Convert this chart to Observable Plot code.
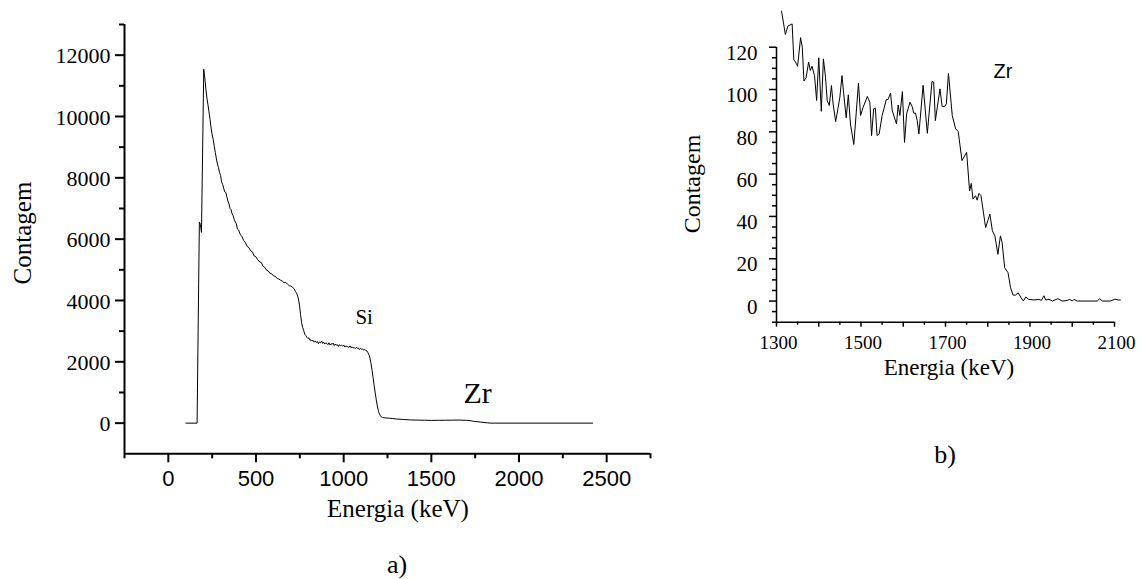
<!DOCTYPE html>
<html><head><meta charset="utf-8">
<script src="https://cdn.jsdelivr.net/npm/d3@7"></script>
<script src="https://cdn.jsdelivr.net/npm/@observablehq/plot@0.6"></script>
<style>
body{margin:0;background:#fff;}
#wrap{position:relative;width:1141px;height:579px;overflow:hidden;background:#fff;}
.p{position:absolute;top:0;}
.lbl{position:absolute;font-family:"Liberation Serif","Times New Roman",serif;color:#000;white-space:nowrap;line-height:1;}
</style></head>
<body><div id="wrap"></div>
<script>
// ---- Data: panel a) full spectrum ----
const leftEnergy = [100,164,177,183,189,202,208,214,220,226,232,238,244,250,256,262,268,274,280,286,292,298,304,310,316,322,328,334,340,346,352,358,364,370,376,382,388,394,400,410,420,430,440,450,460,470,480,490,500,510,520,530,540,550,560,570,580,590,600,610,620,630,640,650,660,670,680,690,700,710,718,724,730,736,742,748,754,760,766,772,778,784,790,796,802,808,814,820,826,832,838,844,850,856,862,868,874,880,886,892,898,904,910,916,922,928,934,940,946,952,958,964,970,976,982,988,994,1000,1006,1012,1018,1024,1030,1036,1042,1048,1054,1060,1066,1072,1078,1084,1090,1096,1102,1108,1114,1120,1126,1132,1138,1144,1150,1156,1162,1168,1174,1180,1186,1192,1198,1204,1210,1216,1222,1230,1240,1260,1280,1300,1340,1380,1420,1460,1500,1540,1580,1620,1660,1700,1720,1740,1760,1780,1800,1820,1840,1860,2420];
const leftCounts = [0,0,6560,6480,6220,11540,11250,10900,10600,10380,10150,9900,9620,9400,9250,9020,8830,8620,8450,8330,8180,8080,7860,7780,7650,7540,7520,7380,7240,7150,7000,6960,6820,6760,6640,6560,6500,6330,6300,6160,6080,5950,5880,5760,5720,5620,5580,5450,5420,5330,5260,5240,5120,5080,4990,4960,4880,4870,4800,4790,4720,4700,4660,4630,4580,4590,4530,4480,4470,4420,4380,4300,4250,4180,4050,3850,3550,3280,3120,3020,2900,2860,2800,2760,2780,2700,2720,2680,2700,2640,2680,2630,2660,2590,2650,2620,2680,2600,2640,2580,2620,2600,2560,2620,2550,2590,2570,2610,2530,2580,2540,2560,2500,2560,2520,2540,2510,2550,2480,2520,2500,2490,2470,2520,2460,2490,2450,2470,2430,2470,2440,2450,2400,2440,2410,2420,2380,2400,2370,2360,2300,2230,2120,1950,1720,1480,1220,980,760,560,400,300,240,200,185,175,170,160,150,135,120,105,98,95,90,92,95,98,100,92,80,62,48,36,22,10,0,0,0];

// ---- Data: panel b) Zr region ----
const rightEnergy = [1312,1321,1327,1337,1341,1345,1350,1357,1361,1365,1370,1376,1380,1384,1390,1395,1400,1406,1411,1416,1420,1425,1430,1434,1440,1446,1450,1455,1459,1465,1470,1475,1483,1494,1499,1505,1515,1521,1525,1530,1534,1538,1543,1550,1560,1564,1570,1574,1584,1588,1592,1598,1603,1608,1616,1621,1625,1629,1633,1637,1647,1657,1668,1672,1676,1687,1692,1698,1702,1707,1716,1724,1730,1739,1750,1757,1761,1765,1771,1775,1779,1784,1795,1805,1811,1817,1824,1830,1834,1840,1848,1854,1860,1866,1872,1878,1884,1890,1897,1909,1921,1927,1933,1937,1945,1953,1966,1976,1988,1994,2000,2004,2012,2059,2065,2071,2090,2101,2110,2114];
const rightCounts = [137,126,130,131,114,113,111,124.5,120,104,105.5,113,109,111,106.6,94.8,115,89.7,114.5,105.8,94.8,92.4,101.9,93.2,84.8,91.6,96.4,106.6,98,86.6,97.5,83.7,74,103,87.7,91.6,96.7,94,78.2,90.9,91.2,78.2,79,87.7,95.3,95.3,98.3,90,83.7,92.7,87.7,99,75,88.5,94,92,88.8,88.8,85.3,79,102,79.3,103.8,103.5,85.3,100.3,92,92,93.2,107.6,87.7,81.4,80.2,66.4,70.3,52.1,55.6,48.2,49.8,47.7,50.9,49.8,34.7,41.1,33.2,30.8,22.1,30.8,27.6,15.8,13.4,6.3,2.8,2.8,3.9,1.9,0,1.9,0.8,0.5,0.8,0.3,2.5,0.5,0.8,0,1.1,0,0.3,0.8,0,0.8,0,0,1.1,0,0,0.9,0.5,0.5];

// ---- Tick values ----
const leftXMajor = [0,500,1000,1500,2000,2500];
const leftXMinor = [-250,250,750,1250,1750,2250,2750];
const leftYMajor = [0,2000,4000,6000,8000,10000,12000];
const leftYMinor = [1000,3000,5000,7000,9000,11000,13000];
const rightXLabeled = [1300,1500,1700,1900,2100];
const rightXMajor = [1400,1600,1800,2000];
const rightXMinor = [1350,1450,1550,1650,1750,1850,1950,2050];
const rightYMajor = [0,20,40,60,80,100,120];
const rightYMinor = [-10,-5,5,10,15,25,30,35,45,50,55,65,70,75,85,90,95,105,110,115];

// ---- Annotations (data units) ----
const leftNotes = [{x:1117, y:3449, text:"Si", size:21}, {x:1764, y:969, text:"Zr", size:30}];
const rightNotes = [{x:1836, y:108.7, text:"Zr", size:20}];

const serif = "Liberation Serif";
const sans = "Liberation Sans";

const leftData = leftEnergy.map((e,i)=>({e, c:leftCounts[i]}));
const rightData = rightEnergy.map((e,i)=>({e, c:rightCounts[i]}));

const wrap = document.getElementById("wrap");
const noText = () => "";

const left = Plot.plot({
  width: 660, height: 579,
  marginLeft: 124, marginRight: 10, marginTop: 24, marginBottom: 125.7,
  style: {background: "transparent", overflow: "visible"},
  x: {domain: [-250, 2750], label: null},
  y: {domain: [-1000, 13000], label: null},
  marks: [
    Plot.ruleX([-250], {stroke: "#000", strokeWidth: 2}),
    Plot.ruleY([-1000], {stroke: "#000", strokeWidth: 2}),
    Plot.axisY({ticks: leftYMajor, tickSize: 9, strokeWidth: 2, tickFormat: noText, label: null}),
    Plot.axisY({ticks: leftYMinor, tickSize: 5, strokeWidth: 2, tickFormat: noText, label: null}),
    Plot.axisX({ticks: leftXMajor, tickSize: 9, strokeWidth: 2, tickFormat: noText, label: null}),
    Plot.axisX({ticks: leftXMinor, tickSize: 5, strokeWidth: 2, tickFormat: noText, label: null}),
    Plot.text(leftYMajor, {y: d => d, text: d => String(d), frameAnchor: "left", textAnchor: "end", dx: -14, dy: 1, fontSize: 22, fontFamily: serif, fill: "#000"}),
    Plot.text(leftXMajor, {x: d => d, text: d => String(d), frameAnchor: "bottom", lineAnchor: "top", dy: 17, fontSize: 22, fontFamily: sans, fill: "#000"}),
    Plot.line(leftData, {x: "e", y: "c", stroke: "#000", strokeWidth: 1}),
    Plot.text(leftNotes, {x: "x", y: "y", text: "text", fontSize: d => d.size, fontFamily: serif, fill: "#000"})
  ]
});
left.classList.add("p");
left.style.left = "0px";
wrap.appendChild(left);

const right = Plot.plot({
  width: 481, height: 400,
  marginLeft: 116, marginRight: 27, marginTop: 46.7, marginBottom: 78.3,
  style: {background: "transparent", overflow: "visible"},
  x: {domain: [1300, 2100], label: null},
  y: {domain: [-10, 120], label: null},
  marks: [
    Plot.ruleX([1300], {stroke: "#000", strokeWidth: 1.5}),
    Plot.ruleY([-10], {stroke: "#000", strokeWidth: 1.5}),
    Plot.axisY({ticks: rightYMajor, tickSize: 7, strokeWidth: 1.5, tickFormat: noText, label: null}),
    Plot.axisY({ticks: rightYMinor, tickSize: 4, strokeWidth: 1.5, tickFormat: noText, label: null}),
    Plot.axisX({ticks: rightXLabeled, tickSize: 5, strokeWidth: 1.5, tickFormat: noText, label: null}),
    Plot.axisX({ticks: rightXMajor, tickSize: 5, strokeWidth: 1.5, tickFormat: noText, label: null}),
    Plot.axisX({ticks: rightXMinor, tickSize: 3, strokeWidth: 1.5, tickFormat: noText, label: null}),
    Plot.text(rightYMajor, {y: d => d, text: d => String(d), frameAnchor: "left", textAnchor: "end", dx: -19, dy: 6, fontSize: 21, fontFamily: serif, fill: "#000"}),
    Plot.text(rightXLabeled, {x: d => d, text: d => String(d), frameAnchor: "bottom", lineAnchor: "top", dx: 2, dy: 13, fontSize: 19, fontFamily: serif, fill: "#000"}),
    Plot.line(rightData, {x: "e", y: "c", stroke: "#000", strokeWidth: 1}),
    Plot.text(rightNotes, {x: "x", y: "y", text: "text", fontSize: d => d.size, fontFamily: sans, fill: "#000"})
  ]
});
right.classList.add("p");
right.style.left = "660px";
wrap.appendChild(right);

function label(text, x, y, size, rot) {
  const d = document.createElement("div");
  d.className = "lbl";
  d.textContent = text;
  d.style.left = x + "px";
  d.style.top = y + "px";
  d.style.fontSize = size + "px";
  d.style.transform = "translate(-50%,-50%)" + (rot ? " rotate(-90deg)" : "");
  wrap.appendChild(d);
}
label("Contagem", 22, 233, 25, true);
label("Energia (keV)", 398, 508, 25, false);
label("a)", 397, 565, 26, false);
label("Contagem", 692, 184, 24, true);
label("Energia (keV)", 949, 367, 23, false);
label("b)", 945, 455, 26, false);
</script>
</body></html>
